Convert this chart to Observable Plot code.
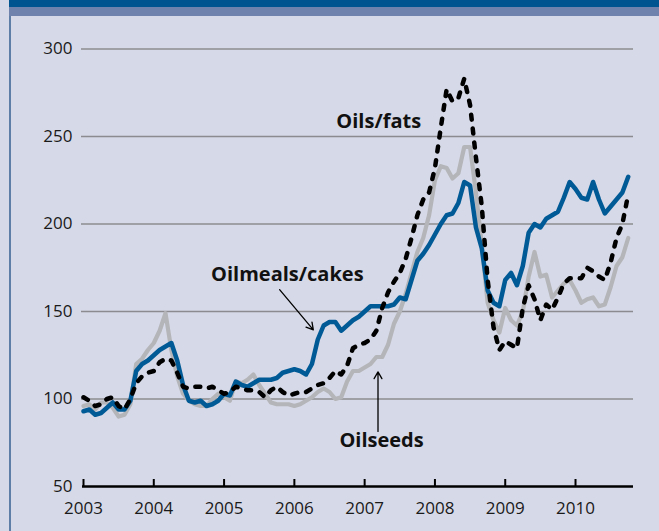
<!DOCTYPE html>
<html>
<head>
<meta charset="utf-8">
<script src="https://cdn.jsdelivr.net/npm/d3@7"></script>
<script src="https://cdn.jsdelivr.net/npm/@observablehq/plot@0.6"></script>
<style>
  html, body { margin: 0; padding: 0; }
  body { width: 659px; height: 531px; overflow: hidden; background: #d6d9e7; font-family: "Open Sans", sans-serif; }
  #wrap { position: relative; width: 659px; height: 531px; background: #d6d9e7; }
  #band1 { position: absolute; left: 9px; top: 0; right: 0; height: 7px; background: #00548f; }
  #band2 { position: absolute; left: 9px; top: 7px; right: 0; height: 9px; background: #6f82ae; }
  #vline { position: absolute; left: 9px; top: 16px; width: 2px; bottom: 0; background: #5e7ea8; }
  #chart { position: absolute; left: 0; top: 16px; }
</style>
</head>
<body>
<div id="wrap">
  <div id="band1"></div>
  <div id="band2"></div>
  <div id="vline"></div>
  <div id="chart"></div>
</div>
<script>
// Monthly index values, Jan 2003 – Oct 2010
const startYear = 2003;
const xTicks = [2003, 2004, 2005, 2006, 2007, 2008, 2009, 2010];
const yTicks = [50, 100, 150, 200, 250, 300];
const gridValues = [100, 150, 200, 250, 300];

const oilmealsCakes = [
  93, 94, 91, 92, 95, 98, 94, 94, 99, 116, 120, 122,
  125, 128, 130, 132, 122, 108, 99, 98, 99, 96, 97, 99,
  103, 102, 110, 108, 107, 109, 111, 111, 111, 112, 115, 116,
  117, 116, 114, 120, 134, 142, 144, 144, 139, 142, 145, 147,
  150, 153, 153, 153, 153, 154, 158, 157, 168, 179, 183, 188,
  194, 200, 205, 206, 212, 224, 222, 198, 186, 162, 155, 153,
  168, 172, 165, 176, 195, 200, 198, 203, 205, 207, 215, 224,
  220, 215, 214, 224, 214, 206, 210, 214, 218, 227
];

const oilsFats = [
  101, 99, 96, 97, 100, 101, 96, 94, 100, 109, 113, 115,
  116, 121, 123, 122, 115, 107, 106, 107, 107, 106, 107, 105,
  103, 104, 107, 106, 105, 105, 104, 101, 105, 107, 104, 102,
  103, 104, 104, 106, 108, 109, 112, 116, 114, 119, 129, 131,
  132, 134, 139, 152, 161, 167, 172, 180, 192, 205, 214, 218,
  232, 255, 277, 270, 272, 283, 268, 238, 210, 168, 141, 128,
  133, 131, 129, 152, 165, 157, 145, 154, 151, 158, 166, 169,
  169, 169, 175, 173, 170, 168, 178, 192, 200, 217
];

const oilseeds = [
  96, 97, 94, 98, 98, 95, 90, 91, 97, 120, 123, 128,
  132, 139, 149, 128, 113, 103, 99, 97, 96, 96, 100, 103,
  101, 99, 110, 109, 111, 114, 108, 103, 98, 97, 97, 97,
  96, 97, 99, 101, 104, 106, 104, 100, 101, 110, 116, 116,
  118, 120, 124, 124, 131, 143, 150, 160, 172, 184, 192, 205,
  225, 233, 232, 226, 229, 244, 244, 218, 188, 155, 145, 138,
  152, 145, 142, 150, 170, 184, 170, 171, 158, 162, 166, 168,
  162, 155, 157, 158, 153, 154, 164, 176, 181, 192
];

// Annotation labels (data units)
const labels = [
  {text: "Oils/fats", x: 2007.2, y: 258.5},
  {text: "Oilmeals/cakes", x: 2005.9, y: 171},
  {text: "Oilseeds", x: 2007.24, y: 76.5}
];
const arrows = [
  {x1: 2005.79, y1: 162.5, x2: 2006.27, y2: 139.5},
  {x1: 2007.19, y1: 81.5, x2: 2007.19, y2: 115.5}
];

const toRows = (vals) => vals.map((v, i) => ({x: startYear + i / 12, y: v}));

const chart = Plot.plot({
  width: 659,
  height: 515,
  marginLeft: 83,
  marginRight: 26,
  marginTop: 32.5,
  marginBottom: 45,
  style: {background: "transparent", fontFamily: "Open Sans, sans-serif", fontSize: "17px", color: "#1a1a1a"},
  x: {domain: [2003, 2010.825], ticks: xTicks, tickSize: 0, tickPadding: 15, tickFormat: d => String(d), label: null},
  y: {domain: [50, 300], ticks: yTicks, tickSize: 0, tickPadding: 11, label: null},
  marks: [
    Plot.ruleY(gridValues, {stroke: "#8c8c90", strokeWidth: 1.5, insetLeft: -2}),
    Plot.line(toRows(oilseeds), {x: "x", y: "y", stroke: "#b4b5b8", strokeWidth: 4.2, strokeLinejoin: "round"}),
    Plot.line(toRows(oilmealsCakes), {x: "x", y: "y", stroke: "#005a96", strokeWidth: 4.5, strokeLinejoin: "round"}),
    Plot.line(toRows(oilsFats), {x: "x", y: "y", stroke: "#000000", strokeWidth: 4.5, strokeDasharray: "5,9", strokeLinecap: "round", strokeLinejoin: "round"}),
    Plot.ruleY([50], {stroke: "#000", strokeWidth: 2.5, insetLeft: -1}),
    Plot.ruleX(xTicks, {y1: 50, y2: 54, stroke: "#000", strokeWidth: 2}),
    Plot.arrow(arrows, {x1: "x1", y1: "y1", x2: "x2", y2: "y2", stroke: "#000", strokeWidth: 1.3, headLength: 9}),
    Plot.text(labels, {x: "x", y: "y", text: "text", fontSize: 20, fontWeight: "bold", fill: "#111", textAnchor: "middle"})
  ]
});
document.getElementById("chart").appendChild(chart);
</script>
</body>
</html>
